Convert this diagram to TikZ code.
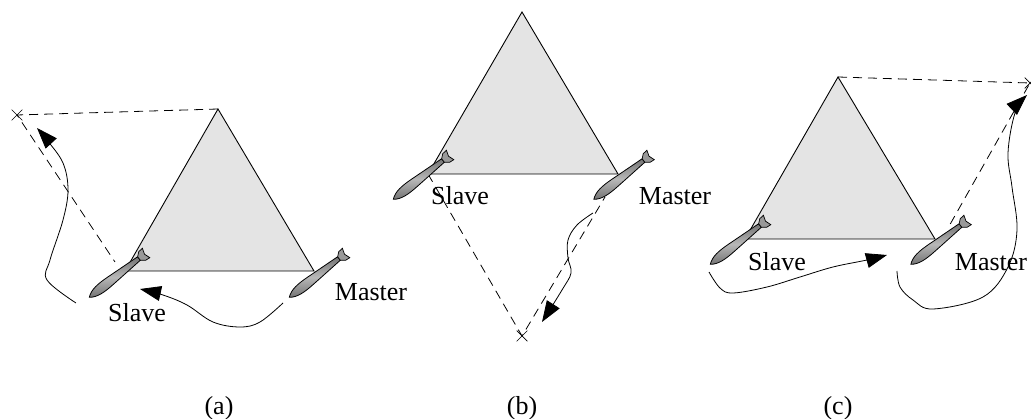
\documentclass[tikz,border=0pt]{standalone}
\usepackage{fontspec}
\setmainfont{Liberation Serif}
\definecolor{areagray}{RGB}{228, 228, 228}
\usetikzlibrary{shapes.misc, arrows.meta}
\tikzset{
  vehicle/.pic={
    \shade[top color=black!55, bottom color=black!55, middle color=black!28] (-37,0) .. controls (-31,5) and (-22,5.4) .. (-10,4.6) -- (26,2.2) -- (26,-2.2) -- (-10,-4.6) .. controls (-22,-5.4) and (-31,-5) .. (-37,0) -- cycle;
    \draw[line width=0.8pt] (-37,0) .. controls (-31,5) and (-22,5.4) .. (-10,4.6) -- (26,2.2) -- (26,-2.2) -- (-10,-4.6) .. controls (-22,-5.4) and (-31,-5) .. (-37,0) -- cycle;
    \draw[fill=black!40, line width=0.7pt] (26,-2.2) -- (30,-5.5) -- (35,-6) -- (33,0) -- (35,6) -- (30,5.5) -- (26,2.2) -- cycle;
  }
}
\begin{document}
\begin{tikzpicture}[
  x=1pt, y=-1pt,
  area/.style={draw=black, line width=0.9pt, fill=areagray},
  guide/.style={dashed, dash pattern=on 9pt off 6pt, line width=0.8pt},
  track/.style={line width=0.8pt, -{Triangle[length=21pt, width=15pt]}},
  goal/.style={cross out, draw=black, line width=0.7pt, inner sep=0pt, minimum size=10pt},
  lbl/.style={font=\fontsize{26}{26}\selectfont, inner sep=0pt}
]
  \useasboundingbox (0,0) rectangle (1031,419);

  % (a)
  \coordinate (apexa) at (218,109);
  \coordinate (lefta) at (125,271);
  \coordinate (righta) at (314,271);
  \coordinate (taila) at (115,262);
  \node[goal] (goala) at (17,115) {};
  \draw[area] (apexa) -- (lefta) -- (righta) -- cycle;
  \draw[guide] (apexa) -- (goala.center) -- (taila);
  \pic[rotate=38] at (118.5,274.5) {vehicle};
  \pic[rotate=38] at (318.5,274.5) {vehicle};
  \node[lbl] (slavea) at (137,313) {Slave};
  \node[lbl] (mastera) at (371,292) {Master};
  \coordinate (sa1) at (76,303);
  \coordinate (ta1) at (37,128);
  \coordinate (sa2) at (283,303);
  \coordinate (ta2) at (140,289);
  \draw[track] plot[smooth, tension=0.6] coordinates {(sa1) (47,280) (50,260) (63,220) (68,190) (63,163) (47,140) (ta1)};
  \draw[track] plot[smooth, tension=0.6] coordinates {(sa2) (260,322) (240,327) (213,322) (187,305) (163,295) (ta2)};
  \node[lbl] (capa) at (219,408) {(a)};

  % (b)
  \coordinate (apexb) at (522,12);
  \coordinate (leftb) at (428,174);
  \coordinate (rightb) at (618,174);
  \coordinate (tailb) at (605,197);
  \node[goal] (goalb) at (522,336) {};
  \draw[area] (apexb) -- (leftb) -- (rightb) -- cycle;
  \draw[guide] (leftb) -- (goalb.center) -- (tailb);
  \pic[rotate=38] at (422.5,176.5) {vehicle};
  \pic[rotate=38] at (623,176.5) {vehicle};
  \node[lbl] (slaveb) at (460,196) {Slave};
  \node[lbl] (masterb) at (675,196) {Master};
  \coordinate (sb) at (593,213);
  \coordinate (tb) at (542,322);
  \draw[track] plot[smooth, tension=0.6] coordinates {(sb) (577,225) (568,240) (568,258) (571,273) (562,290) (tb)};
  \node[lbl] (capb) at (522,408) {(b)};

  % (c)
  \coordinate (apexc) at (838,77);
  \coordinate (leftc) at (745,239);
  \coordinate (rightc) at (935,239);
  \coordinate (tailc) at (948,228);
  \node[goal] (goalc) at (1030,83) {};
  \draw[area] (apexc) -- (leftc) -- (rightc) -- cycle;
  \draw[guide] (apexc) -- (goalc.center) -- (tailc);
  \pic[rotate=38] at (739.5,241.5) {vehicle};
  \pic[rotate=38] at (940,241.5) {vehicle};
  \node[lbl] (slavec) at (777,262) {Slave};
  \node[lbl] (masterc) at (991,262) {Master};
  \coordinate (sc1) at (709,272);
  \coordinate (tc1) at (887,255);
  \coordinate (sc2) at (897,271);
  \coordinate (tc2) at (1027,95);
  \draw[track] plot[smooth, tension=0.6] coordinates {(sc1) (720,288) (733,293) (767,287) (800,277) (833,267) (867,260) (tc1)};
  \draw[track] plot[smooth, tension=0.6] coordinates {(sc2) (900,287) (913,300) (933,309) (983,297) (1008,267) (1017,230) (1012,187) (1008,153) (1015,113) (tc2)};
  \node[lbl] (capc) at (838,408) {(c)};
\end{tikzpicture}
\end{document}
